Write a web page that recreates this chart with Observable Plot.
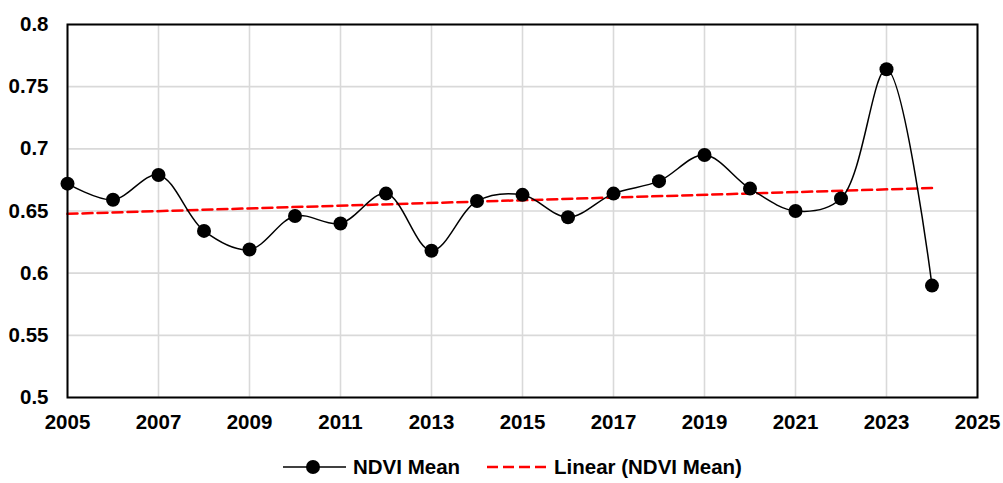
<!DOCTYPE html>
<html>
<head>
<meta charset="utf-8">
<script src="https://cdn.jsdelivr.net/npm/d3@7"></script>
<script src="https://cdn.jsdelivr.net/npm/@observablehq/plot@0.6"></script>
<style>
  html, body { margin: 0; padding: 0; background: #fff; }
  body { width: 1003px; height: 483px; overflow: hidden; font-family: "Liberation Sans", Arial, sans-serif; }
  #legend { position: relative; height: 43px; font-weight: bold; font-size: 20.5px; color: #000; }
  .item { position: absolute; top: 15px; display: flex; align-items: center; white-space: nowrap; }
  .item svg { margin-right: 7px; }
</style>
</head>
<body>
<div id="chart"></div>
<div id="legend"></div>
<script>
// Annual NDVI mean values
const years = [2005, 2006, 2007, 2008, 2009, 2010, 2011, 2012, 2013, 2014,
               2015, 2016, 2017, 2018, 2019, 2020, 2021, 2022, 2023, 2024];
const ndviMean = [0.672, 0.659, 0.679, 0.634, 0.619, 0.646, 0.640, 0.664, 0.618, 0.658,
                  0.663, 0.645, 0.664, 0.674, 0.695, 0.668, 0.650, 0.660, 0.764, 0.590];

const xTicks = [2005, 2007, 2009, 2011, 2013, 2015, 2017, 2019, 2021, 2023, 2025];
const yTicks = [0.5, 0.55, 0.6, 0.65, 0.7, 0.75, 0.8];

const seriesName = "NDVI Mean";
const trendName = "Linear (NDVI Mean)";

const data = years.map((year, i) => ({year, value: ndviMean[i]}));

const fontSize = 20.5;

const chart = Plot.plot({
  width: 1003,
  height: 440,
  marginLeft: 67,
  marginRight: 26,
  marginTop: 24,
  marginBottom: 43,
  style: {fontFamily: "'Liberation Sans', Arial, sans-serif", fontSize: fontSize + "px", fontWeight: "bold", color: "#000", background: "#fff"},
  x: {domain: [2005, 2025], label: null},
  y: {domain: [0.5, 0.8], label: null},
  marks: [
    Plot.gridX(xTicks, {stroke: "#d9d9d9", strokeOpacity: 1, strokeWidth: 1.6}),
    Plot.gridY(yTicks, {stroke: "#d9d9d9", strokeOpacity: 1, strokeWidth: 1.6}),
    Plot.linearRegressionY(data, {x: "year", y: "value", ci: 0, stroke: "#ff0000", strokeWidth: 2.5, strokeDasharray: "10,5"}),
    Plot.line(data, {x: "year", y: "value", curve: "catmull-rom", stroke: "#000", strokeWidth: 1.5}),
    Plot.dot(data, {x: "year", y: "value", r: 7, fill: "#000", stroke: "none"}),
    Plot.frame({stroke: "#000", strokeWidth: 2}),
    Plot.axisX(xTicks, {tickSize: 0, tickPadding: 17, tickFormat: d3.format("d"), fontSize}),
    Plot.axisY(yTicks, {tickSize: 0, tickPadding: 19, tickFormat: d => String(d), fontSize})
  ]
});
document.getElementById("chart").appendChild(chart);

// Legend beneath the chart
const legend = d3.select("#legend");
const item1 = legend.append("div").attr("class", "item").style("left", "283px");
const s1 = item1.append("svg").attr("width", 63).attr("height", 16);
s1.append("line").attr("x1", 0).attr("x2", 63).attr("y1", 8).attr("y2", 8).attr("stroke", "#000").attr("stroke-width", 1.5);
s1.append("circle").attr("cx", 30).attr("cy", 8).attr("r", 7).attr("fill", "#000");
item1.append("span").text(seriesName);

const item2 = legend.append("div").attr("class", "item").style("left", "487px");
const s2 = item2.append("svg").attr("width", 60).attr("height", 16);
s2.append("line").attr("x1", 0).attr("x2", 60).attr("y1", 8).attr("y2", 8).attr("stroke", "#ff0000").attr("stroke-width", 2.5).attr("stroke-dasharray", "11,5");
item2.append("span").text(trendName);
</script>
</body>
</html>
